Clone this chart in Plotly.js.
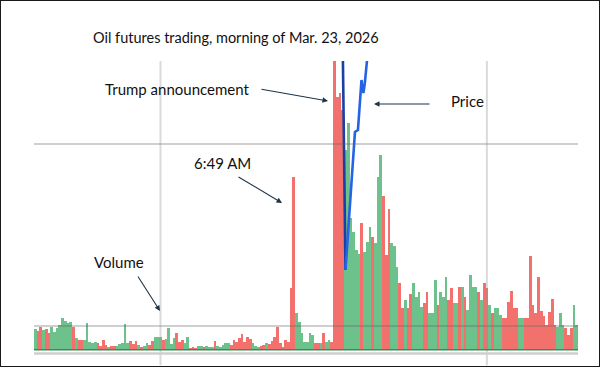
<!DOCTYPE html>
<html><head><meta charset="utf-8">
<script src="https://cdn.plot.ly/plotly-3.0.1.min.js"></script>
<style>
html,body{margin:0;padding:0;background:#fff;}
#chart{width:600px;height:367px;}
#frame{position:absolute;left:0;top:0;width:600px;height:367px;box-sizing:border-box;border:1.5px solid #1a1a1a;pointer-events:none;}
</style>
</head><body>
<div id="chart"></div><div id="frame"></div>
<script>
// One-minute bars, first bar at 5:14 AM (minutes since midnight)
const startMinute = 314;
const volumes = [
  21,19,23,20,21,17,23,18,22,25, 32,29,27,28,23,12,10,10,10,27, 8,7,8,7,4,10,5,3,4,4, 4,6,7,26,7,9,6,9,5,
  3,4,7,5,9,13,13,13,10,11, 22,6,12,17,8,10,7,13,2,3, 2,4,4,3,4,3,3,9,4,3, 5,7,7,5,10,8,12,16,8,13,
  11,7,4,3,4,5,7,6,9,13, 23,7,3,10,8,62,173,37,28,17, 8,8,17,15,7,7,7,17,8,10, 8,
  300,253,257,240,200,227,132,118,100,96,
  127,98,108,123,113,107,173,195,154,95,
  141,107,104,83,67,42,50,42,56,67,
  53,58,43,47,58,37,37,70,45,58,
  53,73,50,62,47,47,63,63,53,40,
  75,63,63,58,50,67,62,45,37,42,
  42,35,32,32,48,59,42,42,32,32,
  32,32,94,45,37,73,39,34,25,38,
  51,25,23,37,25,22,15,22,45,25
];
// g = price up in that minute, r = price down
const barDirection = (
  "grrgrrgggg" + "ggggrgrrgg" + "gggrrrrgrr" + "gggggrrrg" +
  "rggrrgggrg" + "gggrrrggrr" + "rggrgggrgg" + "gggrrrrrrr" +
  "rgggrrgrrr" + "rrrrrrrggg" + "ggggrrgrgg" + "r" +
  "rrrrgggggg" + "rgggrgggrr" + "rgggrrgrrg" + "gggrrgggrg" + "ggrrggrgrg" +
  "gggrgrrgrg" + "ggrrrrrrgg" + "rrrrrrrrrr" + "rrgggrrrgg"
).split('');
const barTimes = volumes.map((v, i) => startMinute + i);

// Price line (minutes since midnight, price)
const priceTimes = [427.03, 428.02, 431.5, 432.6, 433.9, 434.6, 435.1, 436.3];
const prices     = [102.67, 89.25, 97.67, 97.79, 100.84, 100.05, 100.6, 102.67];

const gridTimes = [360, 480];   // 6:00 AM, 8:00 AM
const gridLevels = [24, 206];   // volume gridlines

const GREEN = '#6dc18b', RED = '#f2716d';
const xRange = [startMinute - 0.5, startMinute + volumes.length - 0.5];
const toPaperX = t => (t - xRange[0]) / (xRange[1] - xRange[0]);

const traces = [
  {type:'bar', x: barTimes, y: volumes,
   marker:{color: barDirection.map(d => d === 'g' ? GREEN : RED), line:{width:0}},
   hoverinfo:'skip'},
  {type:'scatter', mode:'lines', x: priceTimes.slice(0,2), y: prices.slice(0,2), yaxis:'y2',
   line:{color:'#1c3fa6', width:2.6}, hoverinfo:'skip'},
  {type:'scatter', mode:'lines', x: priceTimes.slice(1), y: prices.slice(1), yaxis:'y2',
   line:{color:'#2462e6', width:2.6}, hoverinfo:'skip'}
];

const gridColor = 'rgba(95,95,95,0.3)';
const shapes = [];
gridLevels.forEach(v => shapes.push({type:'line', layer:'above', xref:'paper', yref:'y',
  x0:0, x1:1, y0:v, y1:v, line:{color:gridColor, width:2}}));
gridTimes.forEach(t => shapes.push({type:'line', layer:'above', xref:'paper', yref:'paper',
  x0:toPaperX(t), x1:toPaperX(t), y0:-0.031, y1:1, line:{color:'rgba(150,150,150,0.35)', width:2}}));
shapes.push({type:'line', layer:'above', xref:'paper', yref:'y', x0:0, x1:1, y0:0.3, y1:0.3,
  line:{color:'#3b8a57', width:1.5}});
shapes.push({type:'line', layer:'above', xref:'paper', yref:'y', x0:0, x1:1, y0:-3.5, y1:-3.5,
  line:{color:'#cfcfcf', width:2.5}});

const FONT = 'Lato, "Open Sans", sans-serif';
const txt = (text, x, y) => ({text, x, y, xref:'paper', yref:'paper', xanchor:'left', yanchor:'middle',
  showarrow:false, font:{family:FONT, size:15, color:'#111'}});
const arrow = (x, y, ax, ay) => ({text:'', x, y, xref:'paper', yref:'paper', ax, ay, showarrow:true,
  arrowhead:2, arrowsize:1, arrowwidth:1.1, arrowcolor:'#1f3446', standoff:0, startstandoff:0});

const annotations = [
  txt('Trump announcement', 0.1265, 0.9051),
  txt('Price', 0.7625, 0.8644),
  txt('6:49 AM', 0.2905, 0.6542),
  txt('Volume', 0.106, 0.3186),
  arrow(0.5404, 0.8644, -68, -12),
  arrow(0.625, 0.8542, 57, 0),
  arrow(0.4559, 0.5186, -45, -27),
  arrow(0.2316, 0.1525, -23, -36)
];

const layout = {
  width:600, height:367,
  margin:{l:34, r:22, t:61, b:11},
  paper_bgcolor:'#fff', plot_bgcolor:'#fff',
  showlegend:false, bargap:0,
  title:{text:'Oil futures trading, morning of Mar. 23, 2026', xref:'container', yref:'container',
    x:93/600, xanchor:'left', y:1-38/367, yanchor:'middle', font:{family:FONT, size:14.5, color:'#111'}},
  xaxis:{range:xRange, visible:false, showgrid:false, zeroline:false, fixedrange:true},
  yaxis:{range:[-6, 289], visible:false, showgrid:false, zeroline:false},
  yaxis2:{range:[84, 102], overlaying:'y', visible:false, showgrid:false, zeroline:false},
  shapes, annotations
};

Plotly.newPlot('chart', traces, layout, {staticPlot:true, displayModeBar:false});
</script>
</body></html>
